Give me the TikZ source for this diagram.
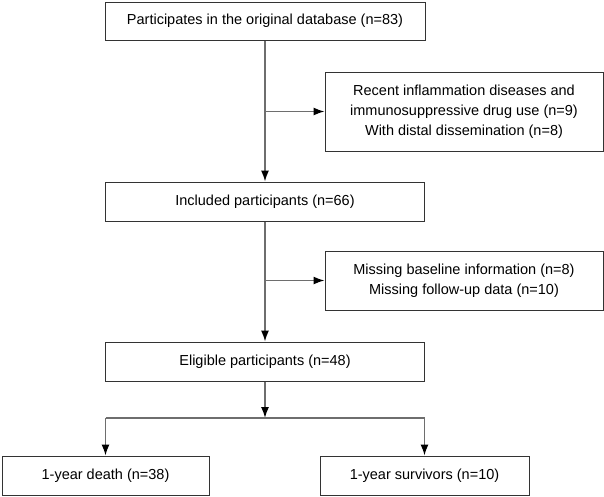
\documentclass[tikz,border=0pt]{standalone}
\usepackage{fontspec}
\setmainfont{Liberation Sans}
\usetikzlibrary{arrows.meta}
\newcommand{\arw}{-{Latex[length=11pt,width=8pt,color=black]}}
\definecolor{linegray}{RGB}{110,110,110}
\tikzset{
  flowbox/.style={draw=black!80,line width=1pt,align=center,inner sep=0pt,
    font=\fontsize{14.5}{20}\selectfont},
  flowline/.style={draw=linegray,line width=1.4pt}
}

\begin{document}
\begin{tikzpicture}[x=1pt,y=-1pt]
\useasboundingbox (0,0) rectangle (604,496);
%main column
\node[flowbox,minimum width=320,minimum height=38] (orig) at (265,21) {Participates in the original database (n=83)};
\node[flowbox,minimum width=319,minimum height=39] (incl) at (265,201.5) {Included participants (n=66)};
\node[flowbox,minimum width=319,minimum height=39] (elig) at (265,361.5) {Eligible participants (n=48)};
%exclusions
\node[flowbox,minimum width=278,minimum height=79] (excla) at (464,111.5) {Recent inflammation diseases and\\immunosuppressive drug use (n=9)\\With distal dissemination (n=8)};
\node[flowbox,minimum width=278,minimum height=59] (exclb) at (464,280.5) {Missing baseline information (n=8)\\Missing follow-up data (n=10)};
%outcome
\node[flowbox,minimum width=207,minimum height=39] (death) at (105.5,475.5) {1-year death (n=38)};
\node[flowbox,minimum width=209,minimum height=39] (surv) at (424.5,475.5) {1-year survivors (n=10)};
\coordinate (split) at (265,418);
\draw[flowline,\arw] (orig) -- (incl);
\draw[flowline,\arw] (incl) -- (elig);
\draw[flowline,\arw] (orig.south |- excla) -- (excla.west);
\draw[flowline,\arw] (incl.south |- exclb) -- (exclb.west);
\draw[flowline,\arw] (elig) -- (split);
\draw[flowline] (split -| death) -- (split -| surv);
\draw[flowline,\arw] (split -| death) -- (death);
\draw[flowline,\arw] (split -| surv) -- (surv);
\end{tikzpicture}
\end{document}
